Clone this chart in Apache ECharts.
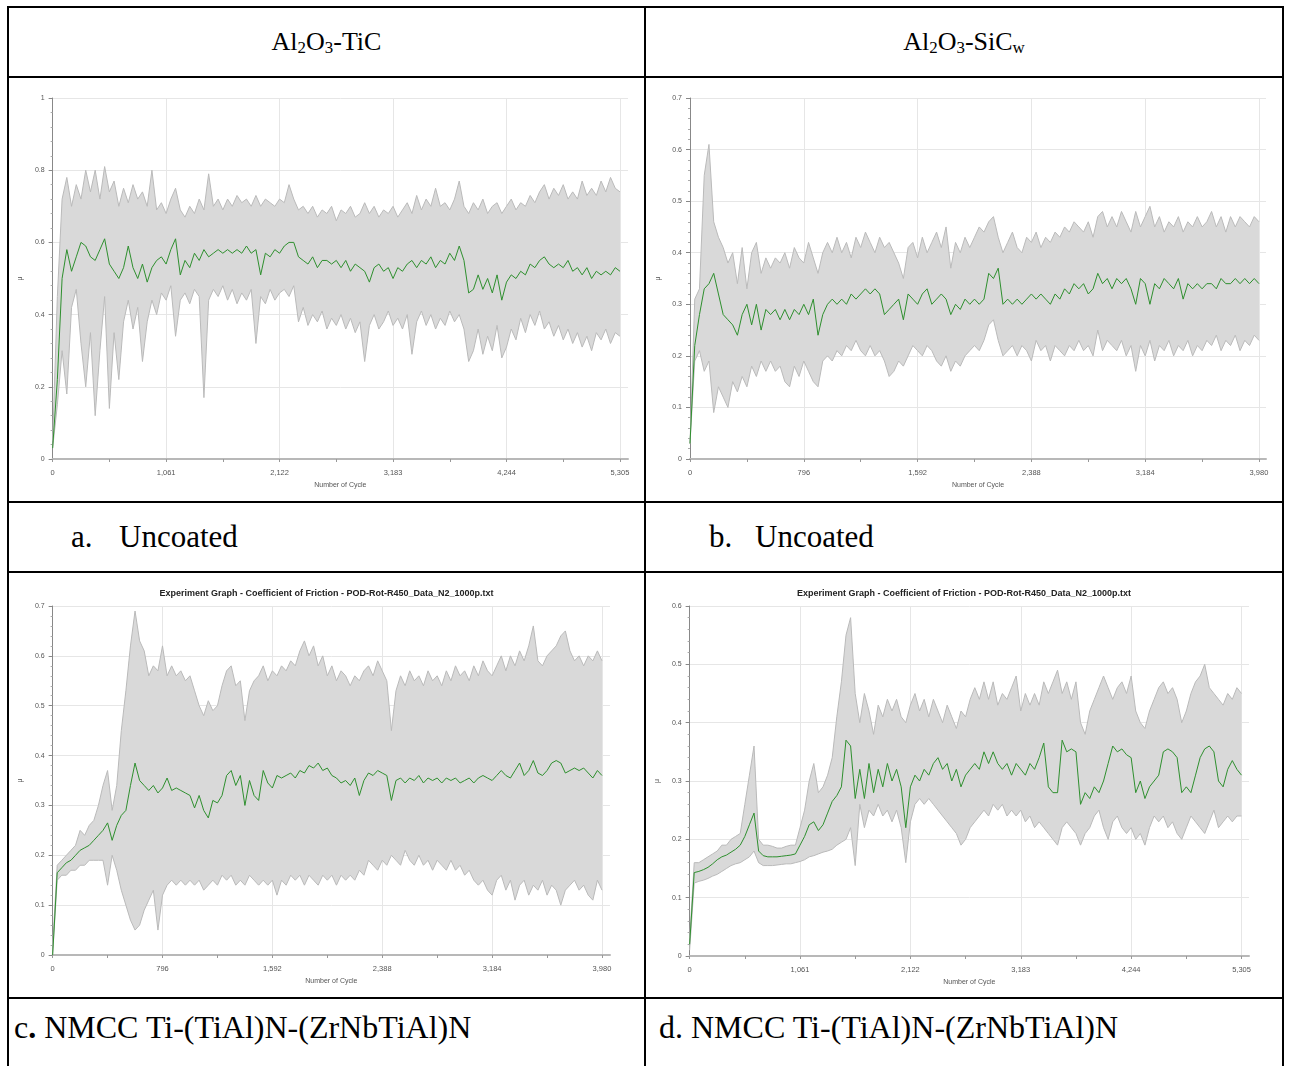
<!DOCTYPE html>
<html>
<head>
<meta charset="utf-8">
<script src="https://cdn.jsdelivr.net/npm/echarts@6/dist/echarts.min.js"></script>
<style>
  body { margin: 0; width: 1291px; height: 1066px; overflow: hidden; position: relative; background: #fff;
         font-family: 'Liberation Serif', 'Times New Roman', serif; color: #000; }
  .rule { position: absolute; background: #000; }
  .txt { position: absolute; white-space: nowrap; }
  .head { font-size: 26px; line-height: 26px; text-align: center; }
  .head sub { font-size: 0.65em; vertical-align: -0.2em; line-height: 0; }
  .cap1 { font-size: 31px; line-height: 31px; }
  .cap2 { font-size: 32px; line-height: 32px; }
  .panel { position: absolute; }
</style>
</head>
<body>

<!-- table rules -->
<div class="rule" style="left:7px;top:6px;width:1277px;height:2px"></div>
<div class="rule" style="left:7px;top:76px;width:1277px;height:2px"></div>
<div class="rule" style="left:7px;top:501px;width:1277px;height:2px"></div>
<div class="rule" style="left:7px;top:571px;width:1277px;height:2px"></div>
<div class="rule" style="left:7px;top:997px;width:1277px;height:2px"></div>
<div class="rule" style="left:7px;top:6px;width:2px;height:1060px"></div>
<div class="rule" style="left:644px;top:6px;width:2px;height:1060px"></div>
<div class="rule" style="left:1282px;top:6px;width:2px;height:1060px"></div>

<div class="txt head" style="left:9px;width:635px;top:29px">Al<sub>2</sub>O<sub>3</sub>-TiC</div>
<div class="txt head" style="left:646px;width:636px;top:29px">Al<sub>2</sub>O<sub>3</sub>-SiC<sub>w</sub></div>

<div class="txt cap1" style="left:71px;top:521px">a.</div>
<div class="txt cap1" style="left:119px;top:521px">Uncoated</div>
<div class="txt cap1" style="left:709px;top:521px">b.</div>
<div class="txt cap1" style="left:755px;top:521px">Uncoated</div>

<div class="txt cap2" style="left:14px;top:1011px">c<b>.</b> NMCC Ti-(TiAl)N-(ZrNbTiAl)N</div>
<div class="txt cap2" style="left:659px;top:1011px">d. NMCC Ti-(TiAl)N-(ZrNbTiAl)N</div>

<div id="pa" class="panel" style="left:9px;top:78px;width:635px;height:423px"></div>
<div id="pb" class="panel" style="left:646px;top:78px;width:636px;height:423px"></div>
<div id="pc" class="panel" style="left:9px;top:573px;width:635px;height:424px"></div>
<div id="pd" class="panel" style="left:646px;top:573px;width:636px;height:424px"></div>

<script>
// x tick labels (Number of Cycle)
const aTicks = [0, 1061, 2122, 3183, 4244, 5305];
const bTicks = [0, 796, 1592, 2388, 3184, 3980];
const cTicks = [0, 796, 1592, 2388, 3184, 3980];
const dTicks = [0, 1061, 2122, 3183, 4244, 5305];

// y tick labels (μ)
const aYTicks = [0, 0.2, 0.4, 0.6, 0.8, 1];
const bYTicks = [0, 0.1, 0.2, 0.3, 0.4, 0.5, 0.6, 0.7];
const cYTicks = [0, 0.1, 0.2, 0.3, 0.4, 0.5, 0.6, 0.7];
const dYTicks = [0, 0.1, 0.2, 0.3, 0.4, 0.5, 0.6];

// a. Al2O3-TiC uncoated : max / mean / min of friction, evenly spaced samples over the cycles
const aUpper = [0.05,0.45,0.72,0.78,0.70,0.76,0.72,0.80,0.74,0.80,
  0.72,0.81,0.74,0.77,0.70,0.75,0.71,0.76,0.72,0.74,
  0.70,0.80,0.69,0.71,0.68,0.72,0.75,0.69,0.67,0.70,
  0.68,0.72,0.69,0.79,0.70,0.72,0.69,0.72,0.70,0.73,
  0.71,0.72,0.70,0.73,0.70,0.72,0.71,0.70,0.72,0.71,
  0.76,0.72,0.69,0.70,0.68,0.70,0.67,0.69,0.68,0.70,
  0.66,0.69,0.68,0.70,0.67,0.68,0.71,0.68,0.70,0.67,
  0.69,0.68,0.70,0.67,0.69,0.71,0.68,0.73,0.69,0.72,
  0.70,0.75,0.70,0.71,0.69,0.72,0.77,0.70,0.68,0.71,
  0.69,0.72,0.68,0.70,0.71,0.68,0.70,0.72,0.69,0.71,
  0.70,0.73,0.71,0.74,0.76,0.72,0.75,0.73,0.76,0.72,
  0.74,0.72,0.77,0.73,0.75,0.73,0.77,0.74,0.78,0.75,
  0.74];
const aMean = [0.03,0.22,0.50,0.58,0.52,0.56,0.60,0.59,0.56,0.55,
  0.58,0.61,0.54,0.52,0.50,0.53,0.59,0.53,0.50,0.54,
  0.49,0.53,0.55,0.56,0.54,0.58,0.61,0.51,0.55,0.53,
  0.57,0.55,0.58,0.56,0.57,0.58,0.57,0.58,0.57,0.58,
  0.57,0.59,0.57,0.58,0.51,0.57,0.56,0.58,0.57,0.59,
  0.60,0.60,0.56,0.55,0.54,0.56,0.53,0.55,0.55,0.54,
  0.55,0.53,0.55,0.52,0.54,0.53,0.52,0.49,0.53,0.54,
  0.52,0.53,0.50,0.53,0.52,0.54,0.55,0.53,0.55,0.54,
  0.56,0.53,0.55,0.54,0.57,0.55,0.59,0.55,0.46,0.47,
  0.51,0.47,0.50,0.46,0.51,0.44,0.49,0.51,0.50,0.52,
  0.51,0.54,0.53,0.55,0.56,0.54,0.53,0.54,0.53,0.55,
  0.52,0.53,0.51,0.53,0.50,0.52,0.51,0.52,0.51,0.53,
  0.52];
const aLower = [0.03,0.15,0.30,0.18,0.42,0.47,0.32,0.20,0.35,0.12,
  0.30,0.45,0.14,0.35,0.22,0.38,0.44,0.36,0.42,0.27,
  0.38,0.44,0.40,0.46,0.44,0.48,0.34,0.44,0.46,0.43,
  0.47,0.45,0.17,0.44,0.47,0.45,0.48,0.44,0.47,0.43,
  0.46,0.44,0.47,0.32,0.45,0.43,0.47,0.44,0.46,0.47,
  0.45,0.48,0.38,0.42,0.37,0.40,0.38,0.41,0.36,0.39,
  0.37,0.40,0.36,0.39,0.35,0.38,0.27,0.37,0.40,0.36,
  0.38,0.41,0.37,0.39,0.36,0.40,0.29,0.38,0.41,0.37,
  0.40,0.36,0.39,0.37,0.41,0.38,0.40,0.36,0.27,0.30,
  0.36,0.29,0.34,0.30,0.37,0.28,0.31,0.36,0.33,0.39,
  0.35,0.40,0.37,0.41,0.36,0.38,0.34,0.37,0.33,0.36,
  0.32,0.35,0.31,0.34,0.30,0.35,0.33,0.36,0.32,0.35,
  0.34];

// b. Al2O3-SiCw uncoated
const bUpper = [0.03,0.31,0.33,0.55,0.61,0.46,0.43,0.41,0.38,0.40,
  0.34,0.41,0.33,0.40,0.42,0.36,0.39,0.37,0.39,0.38,
  0.40,0.37,0.41,0.39,0.38,0.42,0.39,0.36,0.40,0.42,
  0.40,0.43,0.40,0.42,0.39,0.43,0.41,0.44,0.42,0.40,
  0.43,0.41,0.42,0.40,0.38,0.35,0.41,0.42,0.39,0.43,
  0.40,0.42,0.44,0.41,0.45,0.37,0.42,0.40,0.43,0.41,
  0.43,0.45,0.44,0.46,0.47,0.43,0.40,0.42,0.44,0.41,
  0.40,0.43,0.42,0.44,0.41,0.43,0.42,0.44,0.43,0.45,
  0.44,0.46,0.45,0.44,0.46,0.43,0.47,0.48,0.45,0.47,
  0.45,0.48,0.46,0.44,0.48,0.45,0.47,0.49,0.45,0.47,
  0.44,0.46,0.45,0.47,0.44,0.46,0.45,0.47,0.45,0.46,
  0.48,0.45,0.47,0.44,0.47,0.45,0.47,0.46,0.45,0.47,
  0.46];
const bMean = [0.03,0.22,0.28,0.33,0.34,0.36,0.32,0.28,0.27,0.26,
  0.24,0.28,0.30,0.26,0.30,0.25,0.29,0.28,0.29,0.27,
  0.29,0.27,0.29,0.28,0.30,0.28,0.31,0.24,0.28,0.30,
  0.31,0.30,0.31,0.30,0.32,0.31,0.32,0.33,0.32,0.33,
  0.32,0.28,0.29,0.30,0.31,0.27,0.32,0.31,0.30,0.32,
  0.33,0.30,0.31,0.32,0.31,0.28,0.30,0.29,0.31,0.30,
  0.31,0.30,0.31,0.36,0.35,0.37,0.30,0.31,0.30,0.31,
  0.30,0.31,0.32,0.31,0.32,0.31,0.30,0.32,0.31,0.33,
  0.32,0.34,0.33,0.34,0.32,0.33,0.36,0.34,0.35,0.33,
  0.35,0.34,0.35,0.33,0.30,0.35,0.34,0.30,0.34,0.33,
  0.35,0.34,0.33,0.35,0.31,0.34,0.33,0.34,0.33,0.34,
  0.34,0.33,0.35,0.34,0.34,0.35,0.34,0.35,0.34,0.35,
  0.34];
const bLower = [0.03,0.19,0.21,0.17,0.19,0.09,0.14,0.12,0.10,0.15,
  0.13,0.16,0.14,0.18,0.16,0.19,0.17,0.19,0.17,0.18,
  0.15,0.14,0.18,0.16,0.19,0.17,0.15,0.14,0.19,0.20,
  0.19,0.21,0.20,0.22,0.21,0.23,0.21,0.20,0.22,0.20,
  0.21,0.19,0.16,0.17,0.19,0.18,0.20,0.22,0.21,0.20,
  0.22,0.21,0.19,0.18,0.20,0.17,0.19,0.18,0.20,0.21,
  0.22,0.21,0.23,0.26,0.27,0.23,0.20,0.21,0.22,0.20,
  0.22,0.21,0.19,0.23,0.21,0.22,0.19,0.22,0.21,0.20,
  0.22,0.21,0.23,0.21,0.22,0.20,0.25,0.21,0.23,0.22,
  0.21,0.23,0.20,0.22,0.17,0.22,0.20,0.23,0.19,0.22,
  0.21,0.23,0.20,0.22,0.21,0.23,0.20,0.22,0.21,0.23,
  0.22,0.24,0.21,0.23,0.22,0.24,0.21,0.23,0.22,0.24,
  0.23];

// c. NMCC coating on Al2O3-TiC
const cUpper = [0.02,0.18,0.19,0.20,0.21,0.22,0.25,0.24,0.26,0.27,
  0.30,0.34,0.37,0.29,0.34,0.45,0.53,0.62,0.69,0.63,
  0.61,0.56,0.58,0.57,0.62,0.56,0.58,0.56,0.57,0.55,
  0.56,0.53,0.50,0.48,0.51,0.49,0.50,0.54,0.57,0.58,
  0.54,0.55,0.47,0.53,0.55,0.56,0.58,0.55,0.57,0.56,
  0.58,0.57,0.59,0.58,0.61,0.63,0.60,0.62,0.58,0.60,
  0.56,0.58,0.55,0.57,0.56,0.54,0.56,0.55,0.57,0.58,
  0.56,0.59,0.57,0.55,0.45,0.53,0.56,0.54,0.57,0.55,
  0.56,0.54,0.57,0.55,0.56,0.54,0.57,0.55,0.58,0.56,
  0.57,0.55,0.58,0.56,0.59,0.57,0.56,0.58,0.60,0.57,
  0.60,0.58,0.61,0.59,0.62,0.66,0.59,0.58,0.60,0.61,
  0.62,0.64,0.65,0.61,0.59,0.60,0.58,0.60,0.59,0.61,
  0.59];
const cMean = [0.00,0.165,0.175,0.185,0.19,0.20,0.21,0.215,0.22,0.23,
  0.24,0.25,0.265,0.23,0.26,0.28,0.29,0.34,0.385,0.35,
  0.34,0.33,0.34,0.325,0.335,0.355,0.33,0.335,0.33,0.325,
  0.32,0.295,0.32,0.29,0.275,0.31,0.305,0.32,0.36,0.37,
  0.34,0.36,0.30,0.35,0.32,0.31,0.37,0.345,0.335,0.36,
  0.355,0.36,0.365,0.355,0.37,0.365,0.38,0.375,0.385,0.37,
  0.375,0.36,0.355,0.345,0.35,0.34,0.355,0.32,0.35,0.365,
  0.36,0.37,0.365,0.36,0.31,0.35,0.355,0.345,0.355,0.35,
  0.36,0.345,0.355,0.35,0.355,0.345,0.355,0.35,0.355,0.345,
  0.35,0.355,0.345,0.355,0.36,0.355,0.35,0.36,0.37,0.36,
  0.355,0.37,0.385,0.36,0.37,0.39,0.365,0.36,0.37,0.385,
  0.39,0.385,0.365,0.37,0.375,0.37,0.375,0.365,0.355,0.37,
  0.36];
const cLower = [0.00,0.15,0.16,0.16,0.17,0.17,0.18,0.18,0.19,0.19,
  0.19,0.19,0.14,0.20,0.17,0.13,0.10,0.07,0.05,0.06,
  0.09,0.11,0.13,0.05,0.12,0.14,0.15,0.14,0.15,0.14,
  0.15,0.14,0.15,0.13,0.14,0.15,0.14,0.16,0.15,0.16,
  0.14,0.15,0.14,0.16,0.15,0.14,0.15,0.14,0.15,0.12,
  0.15,0.14,0.16,0.15,0.16,0.14,0.16,0.15,0.14,0.16,
  0.15,0.16,0.14,0.16,0.15,0.16,0.15,0.17,0.16,0.19,
  0.18,0.17,0.19,0.18,0.20,0.19,0.18,0.21,0.19,0.18,
  0.20,0.18,0.19,0.17,0.19,0.18,0.17,0.19,0.17,0.18,
  0.16,0.17,0.15,0.14,0.15,0.13,0.12,0.15,0.16,0.13,
  0.15,0.11,0.14,0.15,0.12,0.14,0.13,0.15,0.12,0.14,
  0.13,0.10,0.13,0.14,0.15,0.13,0.14,0.12,0.11,0.15,
  0.13];

// d. NMCC coating on Al2O3-SiCw
const dUpper = [0.03,0.16,0.16,0.165,0.17,0.175,0.18,0.19,0.19,0.20,
  0.205,0.21,0.26,0.31,0.36,0.20,0.19,0.19,0.188,0.185,
  0.185,0.188,0.19,0.19,0.22,0.25,0.30,0.33,0.28,0.29,
  0.31,0.34,0.41,0.47,0.55,0.58,0.45,0.40,0.45,0.42,
  0.38,0.43,0.41,0.44,0.42,0.44,0.41,0.40,0.43,0.45,
  0.42,0.44,0.41,0.44,0.42,0.40,0.43,0.41,0.39,0.42,
  0.41,0.44,0.46,0.44,0.47,0.44,0.47,0.43,0.45,0.44,
  0.46,0.48,0.42,0.45,0.43,0.45,0.43,0.47,0.45,0.47,
  0.49,0.45,0.47,0.44,0.47,0.40,0.38,0.42,0.44,0.46,
  0.48,0.46,0.44,0.46,0.47,0.45,0.48,0.42,0.40,0.39,
  0.42,0.44,0.46,0.47,0.45,0.46,0.44,0.40,0.42,0.45,
  0.47,0.48,0.50,0.46,0.45,0.44,0.43,0.45,0.44,0.46,
  0.45];
const dMean = [0.02,0.143,0.145,0.148,0.152,0.158,0.165,0.17,0.173,0.178,
  0.183,0.19,0.205,0.225,0.245,0.18,0.172,0.17,0.17,0.17,
  0.171,0.172,0.173,0.175,0.19,0.205,0.225,0.23,0.215,0.225,
  0.245,0.265,0.275,0.29,0.37,0.36,0.27,0.32,0.27,0.33,
  0.28,0.32,0.29,0.33,0.30,0.32,0.29,0.22,0.29,0.31,
  0.30,0.32,0.31,0.33,0.34,0.32,0.33,0.30,0.32,0.29,
  0.31,0.32,0.33,0.32,0.35,0.33,0.35,0.33,0.32,0.33,
  0.31,0.33,0.32,0.31,0.33,0.32,0.34,0.365,0.29,0.28,
  0.28,0.37,0.35,0.355,0.35,0.26,0.28,0.27,0.29,0.28,
  0.30,0.33,0.36,0.35,0.355,0.345,0.34,0.28,0.30,0.27,
  0.29,0.30,0.31,0.35,0.355,0.35,0.34,0.28,0.29,0.28,
  0.31,0.34,0.355,0.36,0.35,0.30,0.29,0.32,0.335,0.32,
  0.31];
const dLower = [0.01,0.125,0.128,0.13,0.133,0.137,0.14,0.145,0.15,0.155,
  0.158,0.16,0.165,0.17,0.18,0.16,0.155,0.155,0.155,0.156,
  0.157,0.158,0.158,0.16,0.162,0.165,0.17,0.172,0.175,0.178,
  0.18,0.183,0.19,0.195,0.20,0.22,0.155,0.26,0.22,0.25,
  0.24,0.26,0.24,0.25,0.23,0.25,0.22,0.16,0.23,0.26,
  0.27,0.26,0.27,0.26,0.25,0.24,0.23,0.22,0.21,0.19,
  0.20,0.22,0.23,0.24,0.25,0.24,0.26,0.25,0.26,0.24,
  0.25,0.24,0.25,0.23,0.24,0.22,0.23,0.22,0.21,0.20,
  0.19,0.22,0.23,0.22,0.21,0.19,0.21,0.22,0.24,0.25,
  0.22,0.20,0.23,0.24,0.22,0.21,0.22,0.20,0.21,0.19,
  0.22,0.24,0.23,0.24,0.22,0.23,0.21,0.20,0.22,0.24,
  0.23,0.22,0.21,0.23,0.25,0.22,0.23,0.24,0.23,0.24,
  0.24];

const graphTitle = 'Experiment Graph - Coefficient of Friction - POD-Rot-R450_Data_N2_1000p.txt';
const axisFont = 'Liberation Sans';
const gridColor = '#e6e6e6';

// labelled ticks plus the unlabelled ones halfway between
function withMidpoints(t) {
  const out = [];
  for (let i = 0; i < t.length; i++) {
    out.push(t[i]);
    if (i < t.length - 1) out.push((t[i] + t[i + 1]) / 2);
  }
  return out;
}

function drawPanel(id, p) {
  const chart = echarts.init(document.getElementById(id));
  const n = p.mean.length;
  const step = p.ticks[p.ticks.length - 1] / (n - 1);
  const pts = arr => arr.map((v, i) => [i * step, v]);
  const upperPts = pts(p.upper);
  const lowerPts = pts(p.lower);
  const bandRows = p.upper.map((v, i) => [i * step, p.lower[i], v]);

  // min..max envelope as one filled polygon, placed through the axes
  const renderBand = (params, api) => {
    if (params.dataIndex !== 0) return null;
    const top = upperPts.map(pt => api.coord(pt));
    const bottom = lowerPts.map(pt => api.coord(pt)).reverse();
    return { type: 'polygon', shape: { points: top.concat(bottom) }, style: { fill: '#d9d9d9' } };
  };

  const option = {
    animation: false,
    grid: p.grid,
    xAxis: [{
      // visible axis: labels only on the labelled cycles, ticks also halfway
      type: 'value', min: 0, max: p.xMax, interval: p.ticks[1] - p.ticks[0],
      offset: 3,
      name: 'Number of Cycle', nameLocation: 'middle', nameGap: 16,
      nameTextStyle: { fontFamily: axisFont, fontSize: 7, color: '#555' },
      axisLine: { lineStyle: { color: '#b8b8b8', width: 2 } },
      axisTick: { show: true, customValues: withMidpoints(p.ticks), length: 3, lineStyle: { color: '#999' } },
      axisLabel: { customValues: p.ticks, formatter: v => v.toLocaleString('en-US'),
                   fontFamily: axisFont, fontSize: 7.5, color: '#555', margin: 7 },
      splitLine: { show: false }
    }, {
      // silent twin axis that only carries the vertical grid lines
      type: 'value', min: 0, max: p.xMax, interval: p.ticks[1] - p.ticks[0],
      position: 'bottom',
      axisLine: { show: false }, axisTick: { show: false }, axisLabel: { show: false },
      splitLine: { show: true, showMinLine: false, showMaxLine: false, lineStyle: { color: gridColor } }
    }],
    yAxis: {
      type: 'value', min: 0, max: p.yTicks[p.yTicks.length - 1], interval: p.yTicks[1] - p.yTicks[0],
      name: 'μ', nameLocation: 'middle', nameGap: 23,
      nameTextStyle: { fontFamily: axisFont, fontSize: 7, color: '#555' },
      axisLine: { show: true, lineStyle: { color: '#888' } },
      axisTick: { show: true, length: 4, lineStyle: { color: '#888' } },
      minorTick: { show: true, splitNumber: 5, length: 2, lineStyle: { color: '#aaa' } },
      axisLabel: { fontFamily: axisFont, fontSize: 7, color: '#555', margin: 8 },
      splitLine: { lineStyle: { color: gridColor } }
    },
    series: [
      { type: 'custom', data: bandRows, encode: { x: 0, y: [1, 2] }, renderItem: renderBand,
        silent: true, z: 1 },
      { type: 'line', data: lowerPts, symbol: 'none', silent: true, z: 2,
        lineStyle: { color: '#bababa', width: 1 } },
      { type: 'line', data: upperPts, symbol: 'none', silent: true, z: 2,
        lineStyle: { color: '#bababa', width: 1 } },
      { type: 'line', data: pts(p.mean), symbol: 'none', silent: true, z: 3,
        lineStyle: { color: '#2e8f2e', width: 1 } }
    ]
  };
  if (p.title) {
    option.title = {
      text: p.title, left: 'center', top: 11, padding: [5, 0, 5, p.titleShift],
      textStyle: { fontFamily: axisFont, fontSize: 9, fontWeight: 'bold', color: '#222' }
    };
  }
  chart.setOption(option);
}

drawPanel('pa', { ticks: aTicks, yTicks: aYTicks, upper: aUpper, mean: aMean, lower: aLower,
  xMax: 5380, grid: { left: 43, top: 20, width: 576, height: 361 } });
drawPanel('pb', { ticks: bTicks, yTicks: bYTicks, upper: bUpper, mean: bMean, lower: bLower,
  xMax: 4029, grid: { left: 44, top: 20, width: 576, height: 361 } });
drawPanel('pc', { ticks: cTicks, yTicks: cYTicks, upper: cUpper, mean: cMean, lower: cLower,
  xMax: 4038, grid: { left: 42, top: 33, width: 559, height: 349 }, title: graphTitle, titleShift: 7 });
drawPanel('pd', { ticks: dTicks, yTicks: dYTicks, upper: dUpper, mean: dMean, lower: dLower,
  xMax: 5377, grid: { left: 43, top: 33, width: 560, height: 350 }, title: graphTitle, titleShift: 10 });
</script>
</body>
</html>
